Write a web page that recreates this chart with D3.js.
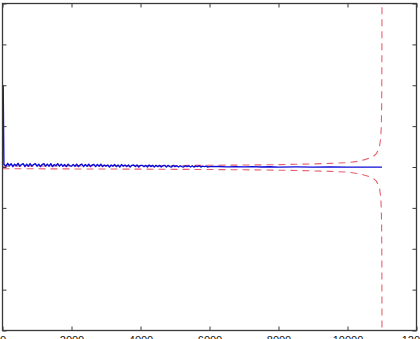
<!DOCTYPE html>
<html>
<head>
<meta charset="utf-8">
<script src="https://cdn.jsdelivr.net/npm/d3@7"></script>
<style>
  html, body { margin: 0; padding: 0; background: #fff; overflow: hidden; }
  svg { display: block; }
</style>
</head>
<body>
<svg id="chart" width="420" height="339"></svg>
<script>
// ---------- data ----------
const xTicks = [0, 2000, 4000, 6000, 8000, 10000, 12000];
const xTickLabels = ["0", "2000", "4000", "6000", "8000", "10000", "12000"];
const yTicks = [-4, -3, -2, -1, 0, 1, 2, 3, 4];

// blue estimate: start spike (sample index, value)
const blueHeadN = [20, 40];
const blueHeadV = [2.0, 0.06];
// blue estimate: dense part sampled every blueStep samples starting at blueStep
const blueStep = 50;
const blueDense = [
  0.06, 0.02, 0.09, 0.03, 0.08, 0.01, 0.07, 0.03, 0.09, 0.02, 0.06, 0.08, 0.01, 0.07, 0.02, 0.08, 0.02, 0.06, 0.08, 0.02,
  0.07, 0.01, 0.06, 0.08, 0.02, 0.07, 0.02, 0.08, 0.01, 0.06, 0.03, 0.08, 0.02, 0.07, 0.02, 0.06, 0.01, 0.07, 0.03, 0.02,
  0.06, 0.02, 0.07, 0.01, 0.05, 0.07, 0.01, 0.06, 0.02, 0.07, 0.01, 0.05, 0.06, 0.01, 0.06, 0.02, 0.07, 0.01, 0.05, 0.02,
  0.05, 0.00, 0.05, 0.02, 0.06, 0.01, 0.05, 0.00, 0.06, 0.02, 0.05, 0.01, 0.05, 0.00, 0.04, 0.05, 0.01, 0.05, 0.00, 0.04,
  0.04, 0.01, 0.04, 0.00, 0.05, 0.01, 0.04, 0.00, 0.04, 0.01, 0.04, 0.00, 0.03, 0.04, 0.00, 0.04, 0.01, 0.00, 0.04, 0.01,
  0.03, 0.00, 0.03, 0.01, 0.00, 0.03, 0.01, 0.03, 0.00, 0.03, 0.00, 0.02, 0.01, 0.03, 0.00, 0.02, 0.01, 0.02, 0.00, 0.01
];
// blue estimate: sparse tail (sample index, value)
const blueTailN = [6250, 6500, 6750, 7000, 7250, 7500, 7750, 8000, 8500, 9000, 9500, 10000, 10500, 11000];
const blueTailV = [0.012, 0.004, 0.01, 0.002, 0.008, 0.0, 0.005, -0.002, 0.002, -0.003, 0.0, -0.004, -0.003, -0.004];

// red dashed bounds
const boundN = [0, 1000, 2000, 3000, 4000, 5000, 6000, 7000, 8000, 8500, 9000, 9500, 10000, 10300, 10500, 10650, 10750, 10830, 10890, 10930, 10960, 10980, 10990, 10995, 10998, 11000];
const upperBound = [0.022, 0.024, 0.027, 0.030, 0.032, 0.037, 0.042, 0.048, 0.058, 0.066, 0.075, 0.088, 0.105, 0.14, 0.18, 0.22, 0.26, 0.32, 0.41, 0.51, 0.69, 0.99, 1.49, 2.19, 3.19, 4.5];
const lowerBound = [-0.042, -0.044, -0.047, -0.050, -0.052, -0.057, -0.062, -0.068, -0.078, -0.086, -0.095, -0.108, -0.125, -0.16, -0.20, -0.24, -0.28, -0.34, -0.43, -0.53, -0.71, -1.01, -1.51, -2.21, -3.21, -4.5];

// ---------- drawing ----------
const svg = d3.select("#chart");
const L = 2.5, R = 416.5, T = 3.5, B = 330.5;
const x = d3.scaleLinear().domain([0, 12000]).range([L, R]);
const y = d3.scaleLinear().domain([-4, 4]).range([B, T]);

svg.append("defs").append("clipPath").attr("id", "clip")
  .append("rect").attr("x", L).attr("y", T).attr("width", R - L).attr("height", B - T);

const plot = svg.append("g").attr("clip-path", "url(#clip)");

const line = d3.line().x(d => x(d[0])).y(d => y(d[1]));

const upper = boundN.map((n, i) => [n, upperBound[i]]);
const lower = boundN.map((n, i) => [n, lowerBound[i]]);

[upper, lower].forEach(s => {
  plot.append("path").datum(s)
    .attr("d", line)
    .attr("fill", "none")
    .attr("stroke", "#e4606c")
    .attr("stroke-width", 1.1)
    .attr("stroke-dasharray", "7,5");
});

const blue = blueHeadN.map((n, i) => [n, blueHeadV[i]])
  .concat(blueDense.map((v, i) => [(i + 1) * blueStep, v]))
  .concat(blueTailN.map((n, i) => [n, blueTailV[i]]));
plot.append("path").datum(blue)
  .attr("d", line)
  .attr("fill", "none")
  .attr("stroke", "#0c0cd8")
  .attr("stroke-width", 1.4)
  .attr("stroke-linejoin", "round");

// axes box and ticks (MATLAB style, ticks inward on all sides)
const axisColor = "#3a3a3a";
const tickLen = 4;
const g = svg.append("g");

const xAxisB = d3.axisBottom(x).tickValues(xTicks).tickSize(-tickLen).tickFormat((d, i) => xTickLabels[i]);
const xAxisT = d3.axisTop(x).tickValues(xTicks).tickSize(-tickLen).tickFormat("");
const yAxisL = d3.axisLeft(y).tickValues(yTicks).tickSize(-tickLen).tickFormat("");
const yAxisR = d3.axisRight(y).tickValues(yTicks).tickSize(-tickLen).tickFormat("");

function style(sel) {
  sel.select(".domain").remove();
  sel.selectAll(".tick line").attr("stroke", axisColor).attr("stroke-width", 1);
}

g.append("g").attr("transform", `translate(0,${B})`).call(xAxisB).call(style)
  .call(s => s.selectAll(".tick text")
    .attr("y", 0).attr("dy", "13.5px")
    .attr("fill", "#111")
    .attr("font-family", "'Liberation Sans', Arial, Helvetica, sans-serif")
    .attr("font-size", "11px"));
g.append("g").attr("transform", `translate(0,${T})`).call(xAxisT).call(style);
g.append("g").attr("transform", `translate(${L},0)`).call(yAxisL).call(style);
g.append("g").attr("transform", `translate(${R},0)`).call(yAxisR).call(style);

g.append("rect")
  .attr("x", L).attr("y", T).attr("width", R - L).attr("height", B - T)
  .attr("fill", "none").attr("stroke", axisColor).attr("stroke-width", 1.3);
</script>
</body>
</html>
